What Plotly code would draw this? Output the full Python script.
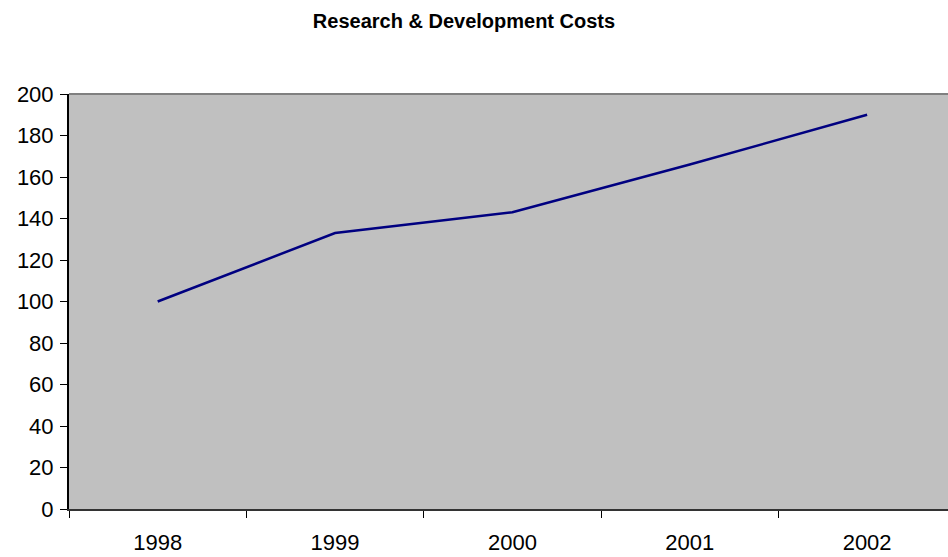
import plotly.graph_objects as go

years = ["1998", "1999", "2000", "2001", "2002"]
costs = [100, 133, 143, 166, 190]
y_ticks = list(range(0, 201, 20))

fig = go.Figure()
fig.add_trace(go.Scatter(
    x=years, y=costs, mode="lines",
    line=dict(color="#000080", width=2.5),
    hoverinfo="x+y",
))

# grey frame line along the top of the plot area
fig.add_shape(type="line", xref="paper", yref="paper",
              x0=0, x1=1, y0=1, y1=1,
              line=dict(color="#808080", width=2))

fig.update_layout(
    width=948, height=557,
    margin=dict(l=69, r=0, t=94, b=48),
    paper_bgcolor="white",
    plot_bgcolor="#C0C0C0",
    showlegend=False,
    font=dict(family="Liberation Sans, Arial, sans-serif", color="black"),
    title=dict(
        text="<b>Research & Development Costs</b>",
        font=dict(size=20, color="black"),
        xref="container", x=464 / 948, xanchor="center",
        yref="container", y=1 - 21 / 557, yanchor="middle",
    ),
    xaxis=dict(
        type="category",
        range=[-0.5, 4.456],
        tickson="boundaries",
        ticks="outside", ticklen=7, tickwidth=1, tickcolor="black",
        showline=True, linecolor="#333333", linewidth=2,
        showgrid=False, zeroline=False,
        tickfont=dict(size=22),
        ticklabelstandoff=13,
        fixedrange=True,
    ),
    yaxis=dict(
        range=[0, 200],
        tickvals=y_ticks,
        ticks="outside", ticklen=7, tickwidth=1, tickcolor="black",
        showline=True, linecolor="black", linewidth=2,
        showgrid=False, zeroline=False,
        tickfont=dict(size=22),
        ticklabelstandoff=2,
        fixedrange=True,
    ),
)

fig.write_html("out.html")
